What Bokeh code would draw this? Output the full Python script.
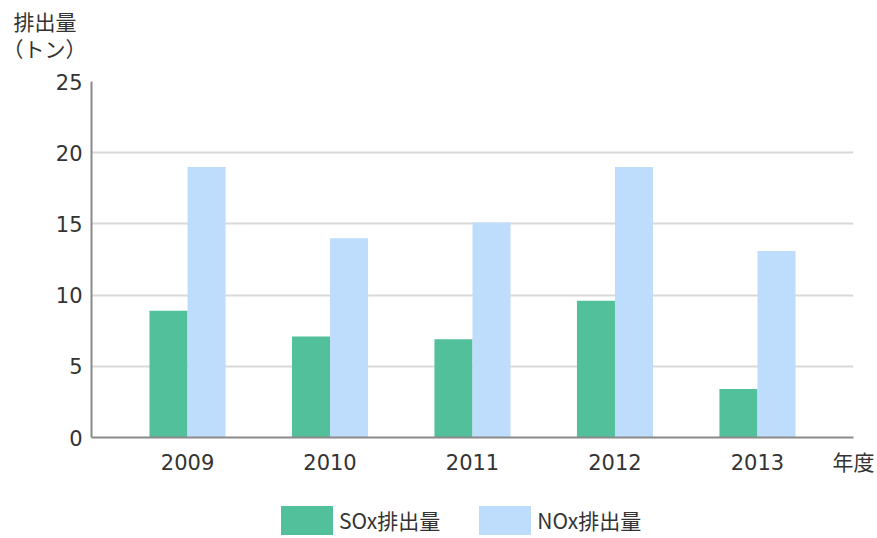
from bokeh.plotting import figure
from bokeh.layouts import column
from bokeh.models import (Range1d, Legend, LegendItem, Label, ColumnDataSource,
                          FixedTicker)
from bokeh.transform import dodge
from bokeh.embed import file_html
from bokeh.resources import INLINE

# ---- data ----
years = ["2009", "2010", "2011", "2012", "2013"]
sox = [8.9, 7.1, 6.9, 9.6, 3.4]
nox = [19.0, 14.0, 15.1, 19.0, 13.1]
y_ticks = [0, 5, 10, 15, 20, 25]
series_names = ["SOx排出量", "NOx排出量"]
y_title = ["排出量", "（トン）"]
x_title = "年度"

CJK = "'Noto Sans CJK JP'"
NUM = "'DejaVu Sans', 'Noto Sans CJK JP'"
TXT = "#333333"
GREEN = "#52C09A"
BLUE = "#BEDCFC"
W = 877

x_idx = list(range(len(years)))
pad = 0.674
x_end = round(len(years) - 1 + pad, 3)

src = ColumnDataSource(dict(x=x_idx, sox=sox, nox=nox))


def bare(height):
    f = figure(width=W, height=height, x_axis_location=None, y_axis_location=None,
               output_backend="svg", toolbar_location=None,
               min_border=0, min_border_left=0, min_border_right=0,
               min_border_top=0, min_border_bottom=0)
    f.outline_line_color = None
    f.xgrid.visible = False
    f.ygrid.visible = False
    return f


top = bare(67)
leg = bare(58)

# ---- main chart ----
p = figure(frame_width=762, frame_height=356,
           x_range=Range1d(-pad, x_end), y_range=(0, 25),
           output_backend="svg", toolbar_location=None,
           min_border_left=91, min_border_right=24, min_border_top=14, min_border_bottom=43)

try:
    for f in (top, p, leg):
        f.frame_align = False
    XOFF = 0
except Exception:
    XOFF = 91

# ---- top strip: unit title ----
top.add_layout(Label(x=13 - XOFF, y=62, x_units="screen", y_units="screen", text=y_title[0],
                     text_font=CJK, text_font_size="21px", text_color=TXT,
                     text_baseline="top", text_align="left"))
top.add_layout(Label(x=2 - XOFF, y=35, x_units="screen", y_units="screen", text=y_title[1],
                     text_font=CJK, text_font_size="21px", text_color=TXT,
                     text_baseline="top", text_align="left"))

r1 = p.vbar(x=dodge("x", -0.1335), top="sox", width=0.267,
            source=src, fill_color=GREEN, line_color=None)
r2 = p.vbar(x=dodge("x", 0.1335), top="nox", width=0.267,
            source=src, fill_color=BLUE, line_color=None)

p.outline_line_color = None
p.xgrid.grid_line_color = None
p.ygrid.grid_line_color = "#d9d9d9"
p.ygrid.grid_line_width = 2
p.yaxis.ticker = FixedTicker(ticks=y_ticks)
p.xaxis.ticker = FixedTicker(ticks=x_idx + [x_end])
overrides = {i: y for i, y in zip(x_idx, years)}
overrides[x_end] = x_title
p.xaxis.major_label_overrides = overrides

for ax in (p.xaxis[0], p.yaxis[0]):
    ax.axis_line_color = "#8a8a8a"
    ax.axis_line_width = 2
    ax.major_tick_line_color = None
    ax.minor_tick_line_color = None
    ax.major_tick_out = 0
    ax.minor_tick_out = 0
    ax.major_label_text_font = NUM
    ax.major_label_text_font_size = "21px"
    ax.major_label_text_color = TXT
p.yaxis.major_label_standoff = 9
p.xaxis.major_label_standoff = 13

# ---- bottom strip: legend ----
l1 = leg.vbar(x=dodge("x", -0.1335), top="sox", width=0.267, source=src,
              fill_color=GREEN, line_color=None, visible=False)
l2 = leg.vbar(x=dodge("x", 0.1335), top="nox", width=0.267, source=src,
              fill_color=BLUE, line_color=None, visible=False)
legend = Legend(items=[LegendItem(label=series_names[0], renderers=[l1]),
                       LegendItem(label=series_names[1], renderers=[l2])],
                orientation="horizontal", location=(274 - XOFF, 0),
                glyph_width=65, glyph_height=36, label_standoff=0, spacing=32,
                padding=0, margin=0, border_line_color=None,
                background_fill_alpha=0, inactive_fill_alpha=0,
                label_text_font=CJK, label_text_font_size="21px",
                label_text_color=TXT, label_height=36)
leg.add_layout(legend, "center")

layout = column(top, p, leg, spacing=0)
open("out.html", "w").write(file_html(layout, INLINE))
